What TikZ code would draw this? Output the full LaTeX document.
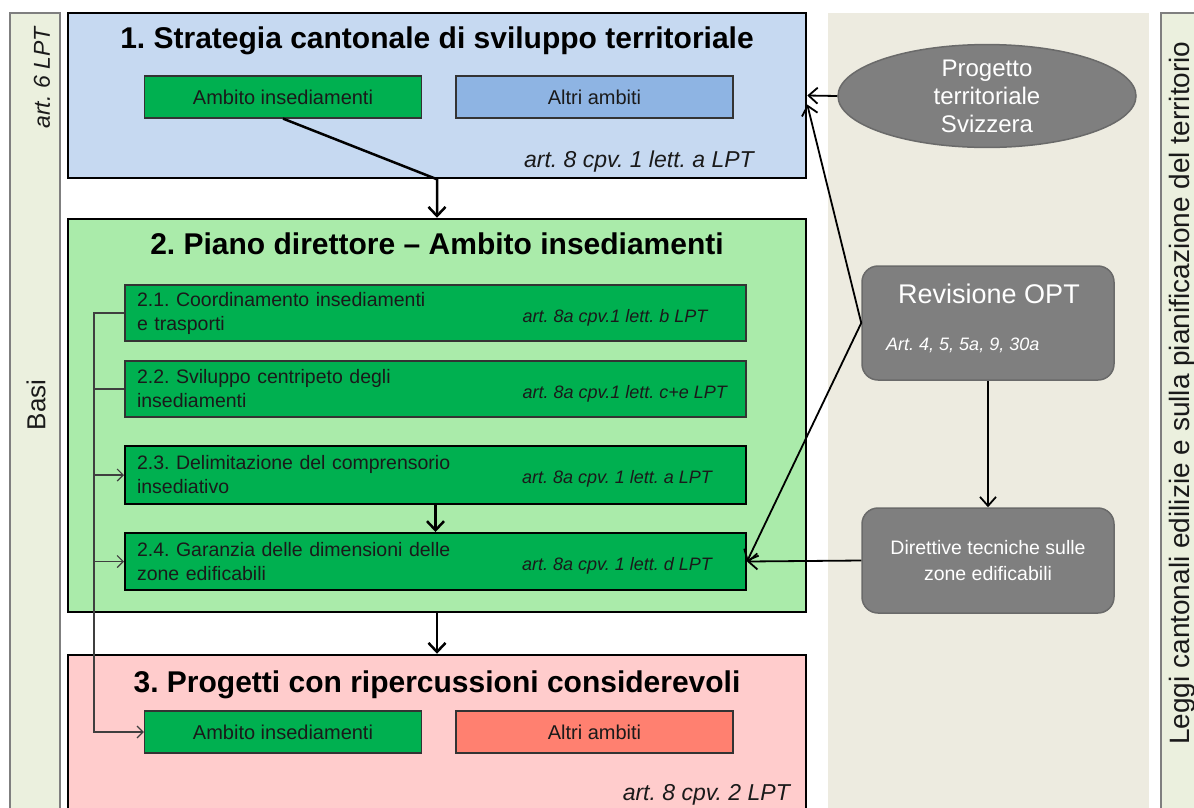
\documentclass[tikz,border=0pt]{standalone}
\usepackage{fontspec}
\setmainfont{Liberation Sans}
\usepackage{tikz}
\usetikzlibrary{calc,positioning,arrows.meta,shapes.geometric}
\definecolor{bluebg}{HTML}{C6D9F1}
\definecolor{bluesub}{HTML}{8EB4E3}
\definecolor{greenbg}{HTML}{AAEBAA}
\definecolor{greensub}{HTML}{00B050}
\definecolor{redbg}{HTML}{FFCCCC}
\definecolor{redsub}{HTML}{FF8070}
\definecolor{greybox}{HTML}{7F7F7F}
\definecolor{greyline}{HTML}{6A6A6A}
\definecolor{beige}{HTML}{EDEBE0}
\definecolor{stripbg}{HTML}{EBF0DE}
\definecolor{stripline}{HTML}{7F7F7F}
\definecolor{textdark}{HTML}{1A1A1A}
\definecolor{subline}{HTML}{333333}
\definecolor{treegray}{HTML}{3F3F3F}
\tikzstyle{strip}     = [rectangle, draw=stripline, fill=stripbg, line width=1.2pt,
                         minimum width=50pt]
\tikzstyle{band}      = [rectangle, fill=beige, minimum width=321pt]
\tikzstyle{stage}     = [rectangle, draw=black, line width=2.5pt, minimum width=738pt]
\tikzstyle{ttl}       = [font=\fontsize{30}{36}\selectfont\bfseries, anchor=base]
\tikzstyle{art}       = [font=\fontsize{23}{28}\selectfont\itshape, text=textdark,
                         anchor=base east]
\tikzstyle{ambito}    = [rectangle, draw=subline, line width=1.2pt, minimum width=277pt,
                         minimum height=42pt, font=\fontsize{20}{24}\selectfont,
                         text=textdark]
\tikzstyle{subbox}    = [rectangle, draw=subline, line width=1.2pt, fill=greensub,
                         minimum width=621pt, text width=597pt, inner xsep=12pt,
                         align=left, font=\fontsize{19.5}{24}\selectfont, text=textdark]
\tikzstyle{subboxb}   = [subbox, draw=black, line width=2pt]
\tikzstyle{artsub}    = [font=\fontsize{18}{22}\selectfont\itshape, text=textdark,
                         anchor=base west]
\tikzstyle{greynode}  = [rectangle, rounded corners=16pt, draw=greyline, line width=1.5pt,
                         fill=greybox, minimum width=252pt, text=white]
\tikzstyle{ptr}       = [draw, line width=2.5pt, -{Straight Barb[length=9pt,width=17pt]}]
\tikzstyle{thinptr}   = [draw, line width=1.8pt, -{Straight Barb[length=9pt,width=16pt]}]
\tikzstyle{tree}      = [draw=treegray, line width=1.2pt]
\tikzstyle{treeptr}   = [tree, -{Straight Barb[length=6pt,width=12pt]}]

\begin{document}
\frenchspacing
\begin{tikzpicture}[x=1pt, y=-1pt, node distance=76pt,
			every node/.style={inner sep=0pt}]
		\useasboundingbox (0,0) rectangle (1194,807);
		\node[strip, minimum height=837pt] (basi) at (35,431.5) {};
		\node[strip, minimum width=60pt, minimum height=837pt] (leggi) at (1191,431.5) {};
		\node[band, minimum height=837pt] (federal) at (988.5,431.5) {};
		\node[rotate=90, font=\fontsize{23}{28}\selectfont\itshape, text=textdark] (art6) at (42,78) {art. 6 LPT};
		\node[rotate=90, font=\fontsize{26}{30}\selectfont, text=textdark] (basitxt) at (36,405) {Basi};
		\node[rotate=90, font=\fontsize{28}{32}\selectfont, text=textdark] (leggitxt) at (1182,393) {Leggi cantonali edilizie e sulla pianificazione del territorio};

		\node[stage, fill=bluebg, minimum height=165pt] (box1) at (437,95.5) {};
		\node[ttl] (t1) at (437,48) {1. Strategia cantonale di sviluppo territoriale};
		\node[ambito, fill=greensub] (a1) at (283,97) {Ambito insediamenti};
		\node[ambito, fill=bluesub, right of=a1, node distance=311.5pt] (b1) {Altri ambiti};
		\node[art] (art1) at (754,167) {art. 8 cpv. 1 lett. a LPT};

		\node[stage, fill=greenbg, minimum height=393pt] (box2) at (437,415.5) {};
		\node[ttl] (t2) at (437,254) {2. Piano direttore – Ambito insediamenti};
		\node[subbox, minimum height=56pt] (s21) at (435.5,313) {2.1. Coordinamento insediamenti\\e trasporti};
		\node[subbox, minimum height=56pt, below of=s21] (s22) {2.2. Sviluppo centripeto degli\\insediamenti};
		\node[subboxb, minimum height=58pt, below of=s22, node distance=86pt] (s23) {2.3. Delimitazione del comprensorio\\insediativo};
		\node[subboxb, minimum height=57pt, below of=s23, node distance=86.5pt] (s24) {2.4. Garanzia delle dimensioni delle\\zone edificabili};
		\node[artsub] (art21) at ($(s21.west)+(398,9)$) {art. 8a cpv.1 lett. b LPT};
		\node[artsub] (art22) at ($(s22.west)+(398,9)$) {art. 8a cpv.1 lett. c+e LPT};
		\node[artsub] (art23) at ($(s23.west)+(398,8)$) {art. 8a cpv. 1 lett. a LPT};
		\node[artsub] (art24) at ($(s24.west)+(398,9)$) {art. 8a cpv. 1 lett. d LPT};

		\node[stage, fill=redbg, minimum height=195pt] (box3) at (437,752.5) {};
		\node[ttl] (t3) at (437,692) {3. Progetti con ripercussioni considerevoli};
		\node[ambito, fill=greensub] (a3) at (283,732) {Ambito insediamenti};
		\node[ambito, fill=redsub, right of=a3, node distance=311.5pt] (b3) {Altri ambiti};
		\node[art] (art3) at (790,800) {art. 8 cpv. 2 LPT};

		\node[ellipse, draw=greyline, line width=1.5pt, fill=greybox, minimum width=298pt,
			minimum height=100pt, text=white, align=center,
			font=\fontsize{24}{28}\selectfont] (pts) at (987,96) {Progetto\\territoriale\\Svizzera};
		\node[greynode, minimum height=114pt] (opt) at (988,323) {};
		\node[font=\fontsize{27}{32}\selectfont, text=white, anchor=base] (optt) at (989,303) {Revisione OPT};
		\node[font=\fontsize{18}{22}\selectfont\itshape, text=white, anchor=base west] (opta) at (886,350) {Art. 4, 5, 5a, 9, 30a};
		\node[greynode, minimum height=105pt, align=center,
			font=\fontsize{19.5}{26}\selectfont] (dir) at (988,560.5) {Direttive tecniche sulle\\zone edificabili};

		\draw[ptr] (a1.south) -- (box1.south) -- (box2.north);
		\draw[ptr] (box2.south) -- (box3.north);
		\draw[ptr] (s23.south) -- (s24.north);
		\draw[thinptr] (pts.west) -- (box1.east);
		\draw[thinptr] (opt.west) -- ($(box1.east)+(0,9)$);
		\draw[thinptr] (opt.west) -- (s24.east);
		\draw[thinptr] (opt.south) -- (dir.north);
		\draw[thinptr] (dir.west) -- (s24.east);

		\coordinate (spine) at (94,0);
		\draw[treeptr] (s21.west) -| (spine |- a3.west) -- (a3.west);
		\draw[tree] (s22.west -| spine) -- (s22.west);
		\draw[treeptr] (s23.west -| spine) -- (s23.west);
		\draw[treeptr] (s24.west -| spine) -- (s24.west);
	\end{tikzpicture}
\end{document}
